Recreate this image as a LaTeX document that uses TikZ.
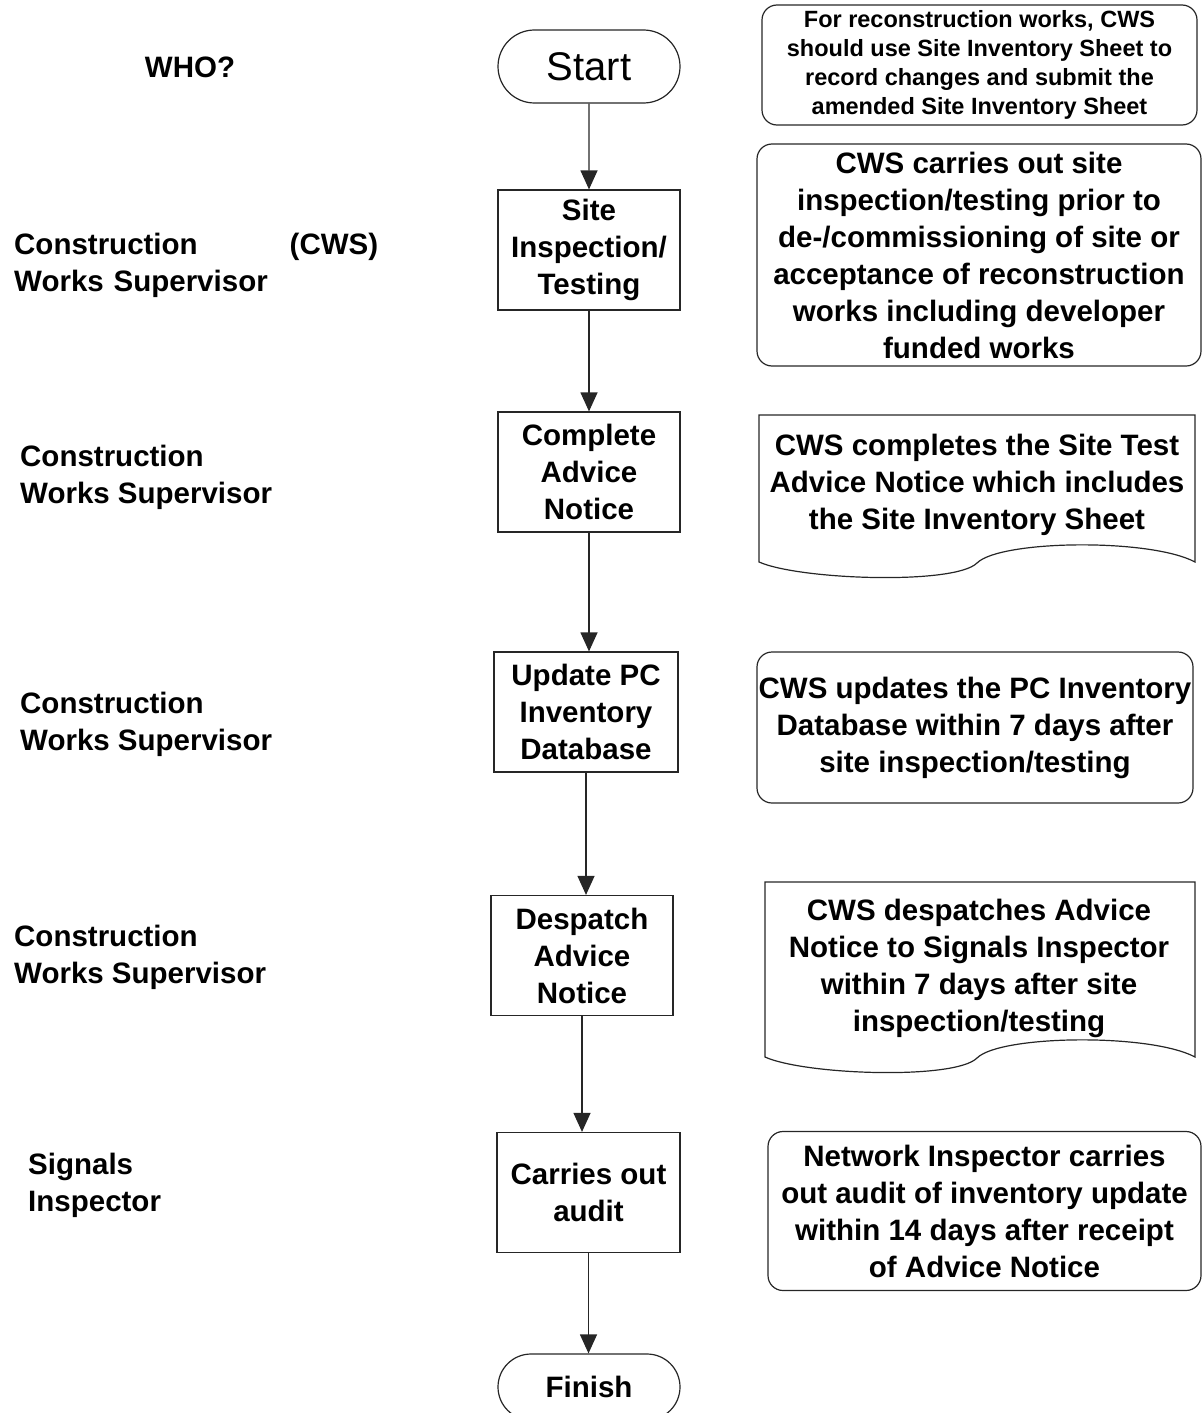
\documentclass[tikz,border=0pt]{standalone}
\usepackage{fontspec}
\setmainfont{Liberation Sans}
\usetikzlibrary{arrows.meta,shapes.misc}
\newcommand{\bodyfont}{\bfseries\fontsize{29.5}{37}\selectfont}
\tikzset{
    terminal/.style={rounded rectangle, draw=black!85, line width=1.2pt, minimum width=182pt, minimum height=73pt, inner sep=0pt}, % 起止框
    process/.style={rectangle, draw=black!85, line width=1.2pt, minimum width=182pt, minimum height=120pt, inner sep=0pt, align=center, font=\bodyfont}, % 步骤框
    note/.style={rectangle, rounded corners=15pt, draw=black!85, line width=1.2pt, inner sep=0pt, align=center, font=\bodyfont}, % 右侧说明
    doc text/.style={inner sep=0pt, align=center, font=\bodyfont}, % 文档形说明的文字
    who/.style={anchor=west, inner sep=0pt, align=left, font=\bodyfont}, % 左侧负责人
    flow/.style={draw=black!85, line width=1.2pt, -{Triangle[length=19pt, width=17pt]}} % 流程箭头
}

\begin{document}
\begin{tikzpicture}[x=1pt, y=-1pt]
    \useasboundingbox (0,0) rectangle (1203,1413);
    \clip (0,0) rectangle (1203,1413);

    % 流程
    \node[terminal, font=\fontsize{40}{44}\selectfont] (start) at (589,66.5) {Start};
    \node[process] (site) at (589,250) {Site\\Inspection/\\Testing};
    \node[process] (advice) at (589,472) {Complete\\Advice\\Notice};
    \node[process, minimum width=184pt] (update) at (586,712) {Update PC\\Inventory\\Database};
    \node[process] (despatch) at (582,955.5) {Despatch\\Advice\\Notice};
    \node[process, minimum width=183pt] (audit) at (588.5,1192.5) {Carries out\\audit};
    \node[terminal, font=\bodyfont, minimum height=66pt] (finish) at (589,1387) {Finish};

    \draw[flow] (start) -- (site);
    \draw[flow] (site) -- (advice);
    \draw[flow] (advice) -- (advice |- update.north);
    \draw[flow] (update) -- (update |- despatch.north);
    \draw[flow] (despatch) -- (despatch |- audit.north);
    \draw[flow] (audit) -- (audit |- finish.north);

    % 负责人
    \node[font=\bodyfont, inner sep=0pt] (who) at (190,67) {WHO?};
    \node[who, text width=364pt] (cws1) at (14,265.5) {Construction\hfill(CWS)\\Works Supervisor};
    \node[who] (cws2) at (20,477.5) {Construction\\Works Supervisor};
    \node[who] (cws3) at (20,724.5) {Construction\\Works Supervisor};
    \node[who] (cws4) at (14,957.5) {Construction\\Works Supervisor};
    \node[who] (si) at (28,1185.5) {Signals\\Inspector};

    % 说明
    \node[note, minimum width=435pt, minimum height=120pt, font=\bfseries\fontsize{23.5}{29}\selectfont] (n1) at (979.5,65) {For reconstruction works, CWS\\should use Site Inventory Sheet to\\record changes and submit the\\amended Site Inventory Sheet};
    \node[note, minimum width=444pt, minimum height=222pt] (n2) at (979,255) {CWS carries out site\\inspection/testing prior to\\de-/commissioning of site or\\acceptance of reconstruction\\works including developer\\funded works};
    \draw[draw=black!85, line width=1.2pt] (759,562) -- (759,415) -- (1195,415) -- (1195,562)
        .. controls (1150,538) and (1000,540) .. (977,563)
        .. controls (955,585) and (800,580) .. cycle;
    \node[doc text] (n3) at (977,485) {CWS completes the Site Test\\Advice Notice which includes\\the Site Inventory Sheet};
    \node[note, minimum width=436pt, minimum height=151pt] (n4) at (975,727.5) {CWS updates the PC Inventory\\Database within 7 days after\\site inspection/testing};
    \draw[draw=black!85, line width=1.2pt] (765,1057) -- (765,882) -- (1195,882) -- (1195,1057)
        .. controls (1150,1033) and (1000,1035) .. (977,1058)
        .. controls (955,1080) and (805,1075) .. cycle;
    \node[doc text] (n5) at (979,968) {CWS despatches Advice\\Notice to Signals Inspector\\within 7 days after site\\inspection/testing};
    \node[note, minimum width=433pt, minimum height=159pt] (n6) at (984.5,1211) {Network Inspector carries\\out audit of inventory update\\within 14 days after receipt\\of Advice Notice};
\end{tikzpicture}
\end{document}
